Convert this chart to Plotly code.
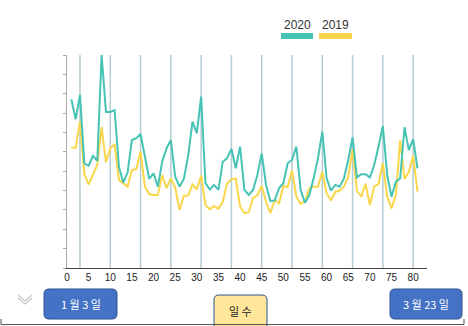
import plotly.graph_objects as go

# ---------------- data ----------------
days = list(range(1, 82))
vals_2020 = [87.1, 76.8, 89.4, 54.1, 52.8, 57.9, 55.3, 110.0, 80.6, 80.6,
             81.5, 52.3, 44.1, 49.3, 66.1, 67.0, 69.2, 57.5, 46.0, 48.9,
             42.0, 54.9, 61.8, 66.1, 47.2, 42.0, 46.0, 57.9, 75.6, 69.6,
             88.5, 43.8, 40.6, 42.9, 40.3, 54.9, 56.7, 61.5, 51.5, 62.7,
             40.3, 37.7, 40.3, 48.0, 59.2, 42.9, 34.6, 34.8, 41.2, 43.8,
             54.1, 55.8, 62.7, 40.3, 33.7, 37.7, 46.3, 56.7, 70.4, 46.3,
             39.9, 42.9, 42.0, 46.3, 55.8, 67.5, 46.8, 48.4, 48.4, 46.8,
             53.2, 62.7, 73.3, 48.0, 36.8, 44.6, 46.3, 72.7, 60.9, 66.5,
             51.5]
vals_2019 = [62.1, 62.1, 75.6, 48.6, 43.2, 48.0, 53.2, 72.7, 54.6, 61.8,
             64.0, 45.5, 43.8, 42.0, 50.6, 51.1, 60.1, 42.0, 38.2, 37.7,
             37.7, 48.0, 41.2, 46.3, 41.7, 30.0, 37.3, 37.4, 43.2, 40.6,
             47.7, 32.5, 30.3, 32.0, 30.6, 34.2, 43.8, 45.8, 46.3, 31.7,
             28.3, 28.8, 36.0, 37.7, 42.4, 34.2, 28.3, 35.1, 33.4, 42.4,
             41.7, 50.3, 36.8, 33.1, 34.7, 41.2, 42.0, 42.0, 49.7, 38.6,
             34.8, 39.4, 39.9, 42.0, 47.2, 61.3, 39.9, 36.8, 43.5, 32.5,
             42.0, 43.4, 54.1, 36.8, 30.8, 37.7, 66.1, 46.0, 49.7, 57.9,
             39.4]
week_marks = [3, 10, 17, 24, 31, 38, 45, 52, 59, 66, 73, 80]
x_ticks = list(range(0, 81, 5))
y_ticks = list(range(0, 111, 10))
series_names = ["2020", "2019"]
button_labels = ["1 월 3 일", "일 수", "3 월 23 일"]

# ---------------- styling ----------------
W, H = 468, 326
L, R, T, B = 67, 41, 55, 58
TEAL = "#45c3b4"
YELLOW = "#f9d64a"
GRID = "#b5ccd3"

def px(x):
    return (x - L) / (W - L - R)

def py(y):
    return (H - B - y) / (H - T - B)

fig = go.Figure()
fig.add_trace(go.Scatter(x=days, y=vals_2019, mode="lines", name=series_names[1],
                         line=dict(color=YELLOW, width=2), showlegend=False))
fig.add_trace(go.Scatter(x=days, y=vals_2020, mode="lines", name=series_names[0],
                         line=dict(color=TEAL, width=2), showlegend=False))

shapes = []
for w in week_marks:
    shapes.append(dict(type="line", xref="x", yref="paper", x0=w, x1=w, y0=0, y1=1,
                       line=dict(color=GRID, width=1.5), layer="below"))

# legend (text above swatch)
leg = [(series_names[0], TEAL, 281, 313), (series_names[1], YELLOW, 319, 352)]
annotations = []
for name, col, x0, x1 in leg:
    shapes.append(dict(type="rect", xref="paper", yref="paper",
                       x0=px(x0), x1=px(x1), y0=py(39), y1=py(33),
                       fillcolor=col, line=dict(width=0)))
    annotations.append(dict(text=name, xref="paper", yref="paper",
                            x=px((x0 + x1) / 2), y=py(25), showarrow=False,
                            xanchor="center", yanchor="middle",
                            font=dict(family="Liberation Sans, Arial", size=12, color="#333")))

def rrect(x0, y0, x1, y1, r=5):
    X = lambda v: px(v)
    Y = lambda v: py(v)
    return (f"M {X(x0+r)},{Y(y0)} L {X(x1-r)},{Y(y0)} Q {X(x1)},{Y(y0)} {X(x1)},{Y(y0+r)} "
            f"L {X(x1)},{Y(y1-r)} Q {X(x1)},{Y(y1)} {X(x1-r)},{Y(y1)} "
            f"L {X(x0+r)},{Y(y1)} Q {X(x0)},{Y(y1)} {X(x0)},{Y(y1-r)} "
            f"L {X(x0)},{Y(y0+r)} Q {X(x0)},{Y(y0)} {X(x0+r)},{Y(y0)} Z")

buttons = [
    (button_labels[0], 44, 289, 117, 319, "#4472c4", "#2f528f", "white", 304),
    (button_labels[1], 214, 295, 267, 330, "#ffe699", "#2f528f", "#222", 311),
    (button_labels[2], 390, 289, 462, 319, "#4472c4", "#2f528f", "white", 304),
]
for text, x0, y0, x1, y1, fill, border, fc, ty in buttons:
    shapes.append(dict(type="path", xref="paper", yref="paper", path=rrect(x0, y0, x1, y1),
                       fillcolor=fill, line=dict(color=border, width=1)))
    annotations.append(dict(text=text, xref="paper", yref="paper",
                            x=px((x0 + x1) / 2), y=py(ty), showarrow=False,
                            xanchor="center", yanchor="middle",
                            font=dict(family="Noto Sans CJK KR", size=11, color=fc)))

# chevron icon
for dy in (0, 3):
    shapes.append(dict(type="path", xref="paper", yref="paper",
                       path=f"M {px(18)},{py(295+dy)} L {px(25)},{py(301+dy)} L {px(32)},{py(295+dy)}",
                       line=dict(color="#c8c8c8", width=1.2)))

# bottom frame line
shapes.append(dict(type="path", xref="paper", yref="paper",
                   path=f"M {px(1)},{py(319)} L {px(1)},{py(324.5)} L {px(464)},{py(324.5)} L {px(464)},{py(319)}",
                   line=dict(color="#555", width=1)))

fig.update_layout(
    width=W, height=H,
    margin=dict(l=L, r=R, t=T, b=B),
    paper_bgcolor="white", plot_bgcolor="white",
    shapes=shapes, annotations=annotations,
    showlegend=False,
    xaxis=dict(range=[0, 83.2], tickvals=x_ticks, showgrid=False, zeroline=False,
               showline=True, linecolor="#444", linewidth=1, ticks="",
               tickfont=dict(family="Liberation Sans Narrow, Liberation Sans", size=10, color="#222")),
    yaxis=dict(range=[0, 110], tickvals=y_ticks, showgrid=False, zeroline=False,
               showline=True, linecolor="#aaa", linewidth=1, ticks="outside",
               ticklen=3, tickcolor="#aaa", showticklabels=False),
)

fig.write_html("out.html")
